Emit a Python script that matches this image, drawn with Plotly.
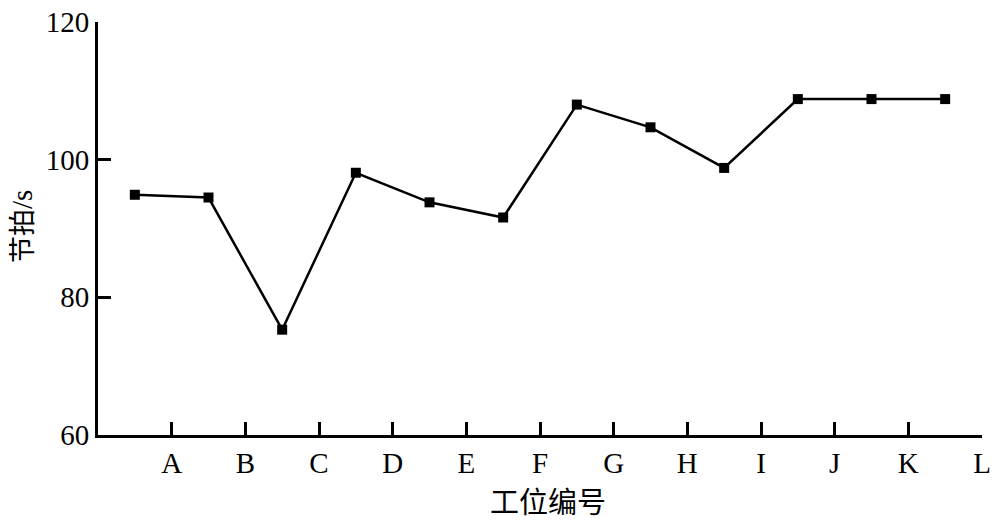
import numpy as np
import plotly.graph_objects as go

stations = ["A", "B", "C", "D", "E", "F", "G", "H", "I", "J", "K", "L"]
cycle_time = [94.9, 94.5, 75.3, 98.1, 93.8, 91.6, 108.0, 104.7, 98.8, 108.8, 108.8, 108.8]
y_ticks = [60, 80, 100, 120]

tick_pos = np.arange(1, len(stations) + 1)
point_pos = tick_pos - 0.5

fig = go.Figure()
fig.add_trace(go.Scatter(
    x=point_pos, y=cycle_time, mode="lines+markers",
    line=dict(color="black", width=2.5),
    marker=dict(symbol="square", size=10, color="black"),
    showlegend=False,
))

serif = "Liberation Serif"
cjk = "Noto Sans CJK SC"
L, R, T, B = 98, 18, 22, 87
W, H = 1000, 522
pw, ph = W - L - R, H - T - B

fig.update_layout(
    width=W, height=H,
    margin=dict(l=L, r=R, t=T, b=B, autoexpand=False),
    plot_bgcolor="white", paper_bgcolor="white",
    font=dict(family=serif, size=29, color="black"),
)
fig.update_xaxes(
    range=[0, 12], tickvals=tick_pos, ticktext=stations, automargin=False,
    showgrid=False, zeroline=False, showline=True, linewidth=3, linecolor="black",
    ticks="inside", ticklen=13, tickwidth=3, tickcolor="black",
    tickfont=dict(family=serif, size=29),
)
fig.update_yaxes(
    range=[60, 120], tickvals=y_ticks, automargin=False,
    showgrid=False, zeroline=False, showline=True, linewidth=3, linecolor="black",
    ticks="inside", ticklen=13, tickwidth=3, tickcolor="black",
    tickfont=dict(family=serif, size=29),
)
fig.add_annotation(
    text="工位编号", xref="paper", yref="paper",
    x=(548 - L) / pw, y=(ph + T - 500) / ph, xanchor="center", yanchor="middle",
    showarrow=False, font=dict(family=cjk, size=29),
)
fig.add_annotation(
    text="节拍<span style='font-family:Liberation Serif;font-size:29px'>/s</span>", xref="paper", yref="paper",
    x=(21 - L) / pw, y=(ph + T - 227) / ph, xanchor="center", yanchor="middle",
    textangle=-90, showarrow=False, font=dict(family=cjk, size=27),
)
fig.write_html(
    "out.html",
    config={"displayModeBar": False},
    post_script="document.body.style.margin='0';document.body.style.padding='0';document.body.style.overflow='hidden';",
)
